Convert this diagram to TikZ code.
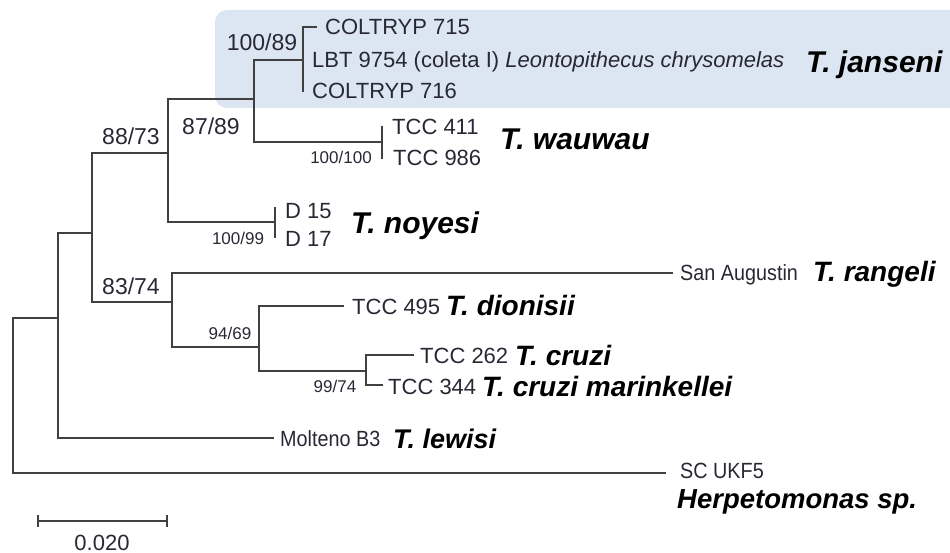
\documentclass[tikz,border=0pt]{standalone}
\usepackage{fontspec}
\setmainfont{Liberation Sans}
\newfontfamily\narrowfam{Liberation Sans}[FakeStretch=0.9]
\definecolor{lc}{RGB}{64,64,64}
\definecolor{tc}{RGB}{40,40,52}
\definecolor{hl}{RGB}{220,230,242}
\begin{document}
\begin{tikzpicture}[x=1pt,y=-1pt,
  br/.style={draw=lc, line width=1.3pt, line cap=rect},
  lab/.style={anchor=west, inner sep=0pt, text=tc, font=\fontsize{22}{22}\selectfont, text height=16pt, text depth=0pt},
  slab/.style={anchor=west, inner sep=0pt, text=tc, font=\narrowfam\fontsize{22}{22}\selectfont, text height=16pt, text depth=0pt},
  spname/.style={anchor=west, inner sep=0pt, text=black, font=\fontsize{28}{28}\selectfont\bfseries\itshape, text height=20pt, text depth=0pt},
  bigsp/.style={spname, font=\fontsize{30}{30}\selectfont\bfseries\itshape, text height=21.5pt},
  bigsupp/.style={anchor=center, inner sep=0pt, text=tc, font=\fontsize{23}{23}\selectfont, text height=16.5pt, text depth=0pt},
  smsupp/.style={anchor=center, inner sep=0pt, text=tc, font=\fontsize{17}{17}\selectfont, text height=12pt, text depth=0pt}
]
\useasboundingbox (0,0) rectangle (950,553);
\fill[hl, rounded corners=12pt] (215,10) rectangle (965,108);

% internal nodes (attachment points)
\coordinate (r) at (13,395);
\coordinate (a) at (58,318);
\coordinate (b) at (92,233);
\coordinate (c) at (168,153);
\coordinate (e) at (254,99);
\coordinate (g) at (303,60);
\coordinate (h) at (382,142);
\coordinate (f) at (275,222);
\coordinate (d) at (172,302);
\coordinate (i) at (259,347);
\coordinate (j) at (366,371);

% leaf ends
\coordinate (l715) at (316,27);
\coordinate (l716) at (303,91);
\coordinate (l411) at (382,127);
\coordinate (l986) at (382,158);
\coordinate (ld15) at (275,208);
\coordinate (ld17) at (275,237);
\coordinate (lsan) at (672,273);
\coordinate (l495) at (343,306);
\coordinate (l262) at (413,355);
\coordinate (l344) at (382,385);
\coordinate (lmol) at (273,438);
\coordinate (lsc) at (665,473);

% branches
\draw[br] (r) |- (a);
\draw[br] (r) |- (lsc);
\draw[br] (a) |- (b);
\draw[br] (a) |- (lmol);
\draw[br] (b) |- (c);
\draw[br] (b) |- (d);
\draw[br] (c) |- (e);
\draw[br] (c) |- (f);
\draw[br] (e) |- (g);
\draw[br] (e) |- (h);
\draw[br] (g) |- (l715);
\draw[br] (g) |- (l716);
\draw[br] (h) |- (l411);
\draw[br] (h) |- (l986);
\draw[br] (f) |- (ld15);
\draw[br] (f) |- (ld17);
\draw[br] (d) |- (lsan);
\draw[br] (d) |- (i);
\draw[br] (i) |- (l495);
\draw[br] (i) |- (j);
\draw[br] (j) |- (l262);
\draw[br] (j) |- (l344);

% leaf labels
\node[lab] (t715) at (325,27) {COLTRYP 715};
\node[lab] (tlbt) at (312,60) {LBT 9754 (coleta I) \textit{Leontopithecus chrysomelas}};
\node[lab] (t716) at (312,91) {COLTRYP 716};
\node[bigsp] (sjan) at (806,62) {T. janseni};
\node[lab] (t411) at (392,127) {TCC 411};
\node[lab] (t986) at (393,158) {TCC 986};
\node[bigsp] (swau) at (500,139) {T. wauwau};
\node[lab] (td15) at (285,211) {D 15};
\node[lab] (td17) at (285,239) {D 17};
\node[bigsp] (snoy) at (351,223) {T. noyesi};
\node[slab] (tsan) at (680,272) {San Augustin};
\node[spname] (sran) at (813,272) {T. rangeli};
\node[lab] (t495) at (352,306) {TCC 495};
\node[spname] (sdio) at (446,306) {T. dionisii};
\node[lab] (t262) at (420,355) {TCC 262};
\node[spname] (scru) at (515,355) {T. cruzi};
\node[lab] (t344) at (388,386) {TCC 344};
\node[spname] (smar) at (482,386) {T. cruzi marinkellei};
\node[slab] (tmol) at (280,438) {Molteno B3};
\node[spname, font=\fontsize{27}{27}\selectfont\bfseries\itshape] (slew) at (393,438) {T. lewisi};
\node[slab] (tsc) at (680,470) {SC UKF5};
\node[spname, font=\fontsize{27.5}{27.5}\selectfont\bfseries\itshape] (sher) at (677,498) {Herpetomonas sp.};

% support values
\node[bigsupp] (s1) at (262,42) {100/89};
\node[bigsupp] (s2) at (131,136) {88/73};
\node[bigsupp] (s3) at (211,126) {87/89};
\node[bigsupp] (s4) at (131,286) {83/74};
\node[smsupp] (s5) at (341,158) {100/100};
\node[smsupp] (s6) at (238,239) {100/99};
\node[smsupp] (s7) at (230,333) {94/69};
\node[smsupp] (s8) at (335,386) {99/74};

% scale bar
\coordinate (sb1) at (38,521);
\coordinate (sb2) at (167,521);
\draw[br] (sb1) -- (sb2);
\draw[br] ([yshift=-5pt]sb1) -- ([yshift=5pt]sb1);
\draw[br] ([yshift=-5pt]sb2) -- ([yshift=5pt]sb2);
\node[lab, anchor=center] (sbl) at (102,542) {0.020};
\end{tikzpicture}
\end{document}
